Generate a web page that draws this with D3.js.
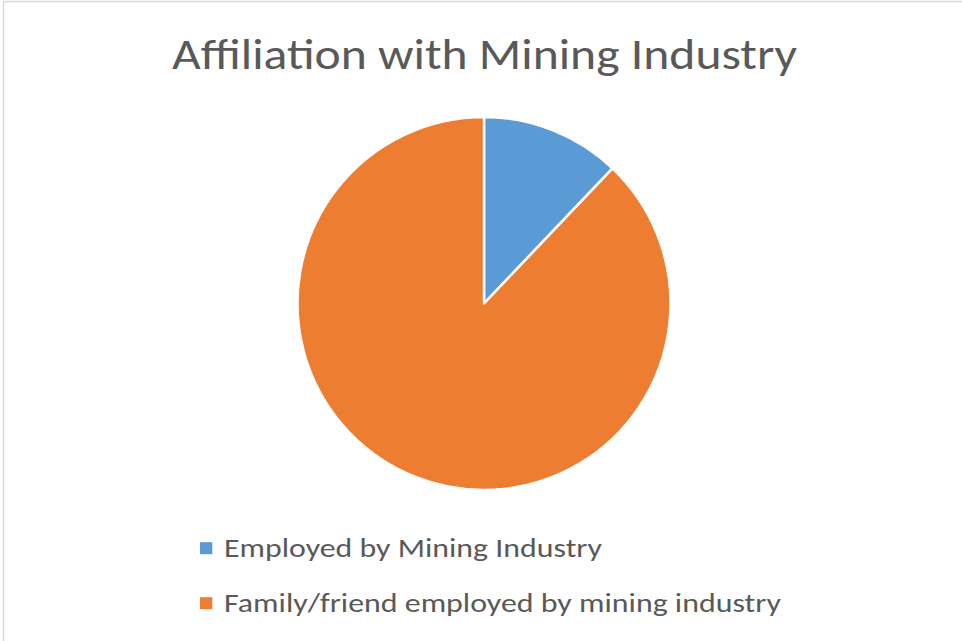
<!DOCTYPE html>
<html>
<head>
<meta charset="utf-8">
<script src="https://cdn.jsdelivr.net/npm/d3@7"></script>
<style>
html,body{margin:0;padding:0;background:#fff;}
svg{display:block;}
</style>
</head>
<body>
<svg id="chart" width="962" height="641"></svg>
<script>
const titleText = "Affiliation with Mining Industry";
const categories = ["Employed by Mining Industry", "Family/friend employed by mining industry"];
const values = [12.1, 87.9];
const colors = ["#5b9bd5", "#ed7d31"];

const svg = d3.select("#chart");
const W = 962, H = 641;
const fontFam = "Carlito, Calibri, Lato, 'Open Sans', sans-serif";

// chart area border (cropped at right/bottom)
svg.append("rect")
  .attr("x", 3.5).attr("y", 1.5)
  .attr("width", W + 10).attr("height", H + 10)
  .attr("fill", "#fff").attr("stroke", "#d9d9d9").attr("stroke-width", 1.5);

// title
svg.append("text")
  .attr("x", 484.5).attr("y", 68.5)
  .attr("text-anchor", "middle")
  .attr("font-family", fontFam)
  .attr("font-size", 43)
  .attr("fill", "#595959")
  .attr("textLength", 625)
  .attr("lengthAdjust", "spacingAndGlyphs")
  .text(titleText);

// pie
const cx = 484, cy = 303.5, r = 186.5;
const pie = d3.pie().sort(null).value(d => d)(values);
const arc = d3.arc().innerRadius(0).outerRadius(r);
const g = svg.append("g").attr("transform", `translate(${cx},${cy})`);
g.selectAll("path").data(pie).join("path")
  .attr("d", arc)
  .attr("fill", (d, i) => colors[i])
  .attr("stroke", "#fff")
  .attr("stroke-width", 2.5)
  .attr("stroke-linejoin", "round");

// legend
const legY = [548.2, 603.2];
const lg = svg.append("g");
categories.forEach((c, i) => {
  lg.append("rect")
    .attr("x", 200).attr("y", legY[i] - 6)
    .attr("width", 12.3).attr("height", 12)
    .attr("fill", colors[i]);
  lg.append("text")
    .attr("x", 224).attr("y", legY[i] + 8.5)
    .attr("font-family", fontFam)
    .attr("font-size", 27)
    .attr("fill", "#595959")
    .attr("textLength", i === 0 ? 378 : 557)
    .attr("lengthAdjust", "spacingAndGlyphs")
    .text(c);
});
</script>
</body>
</html>
